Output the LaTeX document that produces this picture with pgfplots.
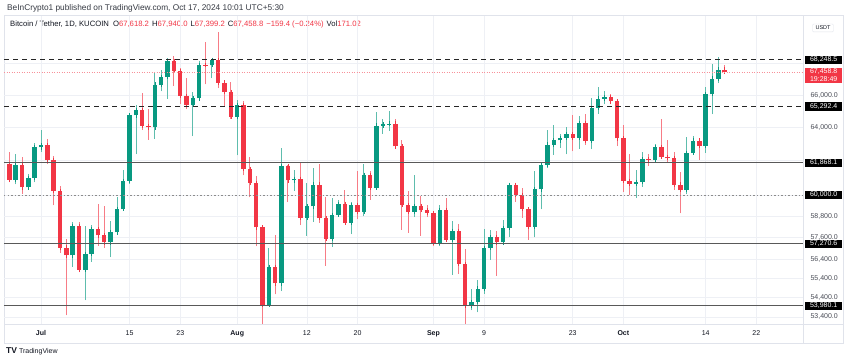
\documentclass[border=0pt]{standalone}
\usepackage{pgfplots}
\pgfplotsset{compat=1.18}
\usepackage{pgfplotstable}
\usepackage{fontspec}
\setmainfont{Liberation Sans}
\definecolor{up}{HTML}{089981}
\definecolor{dn}{HTML}{F23645}
\definecolor{gridc}{HTML}{EEF0F5}
\definecolor{lbl}{HTML}{4A4D57}
\definecolor{frm}{HTML}{E0E3EB}
\definecolor{ink}{HTML}{131722}

% day index: 0 = 1 Jul 2024
\pgfplotstableread{
d o h l c
-4 60864 62389 60606 61706
-2 60427 61224 60383 60986
-1 60986 63058 60712 62772
0 62772 63861 62497 62900
5 56628 58475 56018 58230
7 55857 58236 54260 56714
8 56714 58296 56289 58051
11 57339 58526 56542 57889
12 57889 59850 57756 59204
13 59204 61420 59204 60797
14 60797 64900 60632 64724
15 64724 65388 62373 65043
18 63987 67386 63300 66660
19 66660 67598 66222 67139
20 67139 68366 65777 68165
24 65372 66175 63456 65778
25 65778 68200 65750 67907
27 67896 68318 67066 68249
31 64628 65659 62302 65354
36 54018 57040 53973 56022
38 55134 62745 54730 61685
40 60837 61470 60243 60923
42 58712 60680 57688 59346
43 59346 61572 58478 60587
46 57541 59817 57098 58874
47 58874 59700 58785 59491
49 58427 59617 57787 59438
51 59013 61820 58783 61157
53 60381 64955 60345 64094
54 64094 64513 63619 64178
55 64178 65000 63773 64220
59 59034 61166 58745 59359
63 57301 59425 57128 59132
65 57487 58519 55606 57970
68 53962 54850 53745 54160
69 54160 55318 53629 54869
70 54869 58088 54591 57042
71 57042 58044 56386 57635
73 57339 58588 57324 58127
74 58127 60625 57632 60571
78 58192 61357 57610 60309
79 60309 61786 59174 61759
80 61759 63850 61555 62947
81 62947 64133 62350 63201
82 63201 63559 62758 63348
83 63348 64000 62357 63578
85 63339 64688 62700 64262
87 63152 65839 62670 65173
88 65173 66498 64819 65769
89 65769 66260 65422 65858
94 60649 61470 59828 60753
95 60753 62484 60459 62068
97 62051 63000 61910 62819
102 60276 63417 60046 62445
103 62445 63480 62445 63193
105 62851 66500 62442 66047
106 66047 67950 64800 67041
107 67041 68424 66750 67620
}\upT

\pgfplotstableread{
d o h l c
-5 61806 62487 60712 60864
-3 61706 62225 60063 60427
1 62900 63288 61806 62031
2 62031 62273 59400 60208
3 60208 60499 56771 57050
4 57050 57546 53485 56628
6 58230 58449 55724 55857
9 58051 59470 57157 57725
10 57725 59359 57052 57339
16 65043 66128 63854 64087
17 64087 65133 63238 63987
21 68165 68474 66559 67532
22 67532 67750 65441 65936
23 65936 67102 65111 65372
26 67907 69399 66669 67896
28 68249 70079 66428 66784
29 66784 66970 65302 66188
30 66188 66849 64530 64628
32 65354 65596 61130 61498
33 61498 62198 59850 60697
34 60697 61117 57122 58161
35 58161 58305 49000 54018
37 56022 57737 54558 55134
39 61685 61744 59587 60837
41 60923 61858 58287 58712
44 60587 61800 58433 58683
45 58683 59849 56078 57541
48 59491 60284 58408 58427
50 59438 61400 58610 59013
52 61157 61400 59724 60381
56 64220 64481 62800 62835
57 62835 63212 58034 59415
58 59415 60234 57860 59034
60 59359 59944 57701 59123
61 59123 59432 58744 58973
62 58973 59054 57118 57301
64 59132 59809 57415 57487
66 57970 58327 55643 56160
67 56160 56995 52550 53962
72 57635 57981 55545 57339
75 60571 60656 59602 60005
76 60005 60380 58696 59182
77 59182 59210 57493 58192
84 63578 64745 62538 63339
86 64262 64817 62947 63152
90 65858 66076 65432 65603
91 65603 65604 62856 63327
92 63327 64130 60164 60805
93 60805 62370 59996 60649
96 62068 62370 61689 62051
98 62819 64478 62128 62224
99 62224 63200 61860 62131
100 62131 62508 60300 60583
101 60583 61321 58946 60276
104 63193 63285 62050 62851
108 67618 67940 67399 67459
}\dnT

\tikzset{
  lvlbox/.style={anchor=west, fill=black, text=white, font=\fontsize{7}{8}\selectfont,
    minimum width=37pt, minimum height=8.5pt, inner xsep=1pt, inner ysep=0.5pt, xshift=2pt}
}

\begin{document}
\begin{tikzpicture}[x=1pt,y=1pt]
\fill[white] (0,0) rectangle (850,361);
\draw[frm, line width=0.6pt] (4,18) rectangle (843,346);
\draw[frm, line width=0.6pt] (803,18) -- (803,346);
\draw[frm, line width=0.6pt] (4,37) -- (843,37);

\node[anchor=west, inner sep=0pt, font=\fontsize{8.3}{9}\selectfont, text=ink!85] at (7,353)
  {BeInCrypto1 published on TradingView.com, Oct 17, 2024 10:01 UTC+5:30};

\node[anchor=west, inner sep=0pt, font=\fontsize{7.7}{8.5}\selectfont, text=ink] at (10,336)
  {Bitcoin / Tether, 1D, KUCOIN\hspace{4pt}O\textcolor{dn}{67,618.2}\hspace{3pt}H\textcolor{dn}{67,940.0}\hspace{3pt}L\textcolor{dn}{67,399.2}\hspace{3pt}C\textcolor{dn}{67,458.8}\hspace{3pt}\textcolor{dn}{−159.4 (−0.24\%)}\hspace{3pt}Vol\textcolor{dn}{171.02}};

\node[draw=frm, fill=white, text=ink, font=\fontsize{5.5}{6}\selectfont, inner xsep=3pt, inner ysep=2pt, rounded corners=1pt] at (823,333) {USDT};

\node[anchor=west, inner sep=0pt, text=ink] at (6,10)
  {{\fontsize{8.5}{9}\selectfont\bfseries TV}\hspace{2pt}{\fontsize{7}{8}\selectfont TradingView}};

\begin{axis}[
  at={(4pt,37pt)}, anchor=south west, scale only axis,
  width=799pt, height=308pt,
  xmin=-5.845, xmax=120.38,
  ymode=log, ymin=53049, ymax=71176,
  axis line style={draw=none},
  major tick length=0pt,
  xtick={0,14,22,31,42,50,62,70,84,92,105,113},
  xticklabels={\textbf{Jul},15,23,\textbf{Aug},12,20,\textbf{Sep},9,23,\textbf{Oct},14,22},
  xticklabel style={anchor=base, yshift=-11.5pt, font=\fontsize{7}{8}\selectfont, text=ink},
  ytick={53400,54400,55400,56400,57600,58800,64000,66000},
  yticklabels={{53,400.0},{54,400.0},{55,400.0},{56,400.0},{57,600.0},{58,800.0},{64,000.0},{66,000.0}},
  extra y ticks={60000,62000,68000},
  extra y tick labels={},
  extra y tick style={grid=major},
  yticklabel pos=right,
  yticklabel style={anchor=west, xshift=4pt, font=\fontsize{7}{8}\selectfont, text=lbl},
  xmajorgrids, ymajorgrids,
  grid style={gridc, line width=0.6pt},
]
% wicks
\addplot[draw=none, mark=none, forget plot,
  error bars/.cd, y dir=plus, y explicit, error mark=none,
  error bar style={draw=up!65, line width=0.9pt}]
  table[x=d, y=l, y error plus expr=\thisrow{h}-\thisrow{l}] {\upT};
\addplot[draw=none, mark=none, forget plot,
  error bars/.cd, y dir=plus, y explicit, error mark=none,
  error bar style={draw=dn!65, line width=0.9pt}]
  table[x=d, y=l, y error plus expr=\thisrow{h}-\thisrow{l}] {\dnT};
% bodies
\addplot[draw=none, mark=none, forget plot,
  error bars/.cd, y dir=both, y explicit, error mark=-,
  error mark options={draw=up, line width=0.6pt, mark size=2.2pt},
  error bar style={draw=up, line width=4.4pt}]
  table[x=d, y=o, y error plus expr=\thisrow{c}-\thisrow{o}, y error minus expr=0] {\upT};
\addplot[draw=none, mark=none, forget plot,
  error bars/.cd, y dir=both, y explicit, error mark=-,
  error mark options={draw=dn, line width=0.6pt, mark size=2.2pt},
  error bar style={draw=dn, line width=4.4pt}]
  table[x=d, y=c, y error plus expr=\thisrow{o}-\thisrow{c}, y error minus expr=0] {\dnT};

% levels
\addplot[black!85, line width=1.1pt, dash pattern=on 5pt off 4pt] coordinates {(-5.845,68248.5) (120.38,68248.5)};
\addplot[black!85, line width=1.1pt, dash pattern=on 5pt off 4pt] coordinates {(-5.845,65292.4) (120.38,65292.4)};
\addplot[black!65, line width=1.5pt] coordinates {(-5.845,61868.1) (120.38,61868.1)};
\addplot[black!45, line width=0.6pt, dash pattern=on 1.5pt off 2pt] coordinates {(-5.845,60000) (120.38,60000)};
\addplot[black!65, line width=1.5pt] coordinates {(-5.845,57270.6) (120.38,57270.6)};
\addplot[black!65, line width=1.5pt] coordinates {(-5.845,53980.1) (120.38,53980.1)};
\addplot[dn!55, line width=0.4pt, dash pattern=on 1pt off 1.5pt] coordinates {(-5.845,67458.8) (120.38,67458.8)};

\coordinate (A) at (axis cs:120.38,68248.5);
\coordinate (B) at (axis cs:120.38,65292.4);
\coordinate (C) at (axis cs:120.38,61868.1);
\coordinate (D) at (axis cs:120.38,60000);
\coordinate (E) at (axis cs:120.38,57270.6);
\coordinate (F) at (axis cs:120.38,53980.1);
\coordinate (P) at (axis cs:120.38,67458.8);
\end{axis}

\node[lvlbox] at (A) {68,248.5};
\node[lvlbox] at (B) {65,292.4};
\node[lvlbox] at (C) {61,868.1};
\node[lvlbox] at (D) {60,000.0};
\node[lvlbox] at (E) {57,270.6};
\node[lvlbox] at (F) {53,980.1};
\node[anchor=north west, fill=dn, text=white, font=\fontsize{7}{8}\selectfont, align=center,
  minimum width=37pt, inner xsep=1pt, inner ysep=1pt, xshift=2pt, yshift=4.6pt] at (P)
  {67,458.8\\19:28:49};
\end{tikzpicture}
\end{document}
